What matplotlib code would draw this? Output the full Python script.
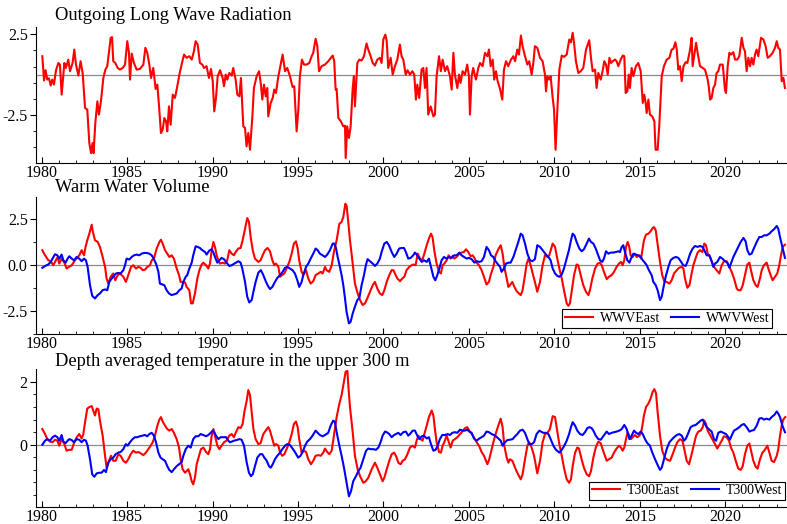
import numpy as np
import matplotlib
matplotlib.use("Agg")
import matplotlib.pyplot as plt
from matplotlib.ticker import FixedLocator

plt.rcParams['font.family'] = ['Liberation Serif', 'DejaVu Serif']
plt.rcParams['axes.unicode_minus'] = False

# all time axes are "years after 1980"

# Outgoing long wave radiation
olr_t = [0.04, 0.14, 0.23, 0.33, 0.43, 0.53, 0.62, 0.72, 0.84, 0.98,
         1.07, 1.17, 1.33, 1.42, 1.56, 1.66, 1.81, 1.91, 2.01, 2.15,
         2.28, 2.40, 2.54, 2.67, 2.79, 2.89, 2.98, 3.04, 3.14, 3.26,
         3.35, 3.47, 3.61, 3.73, 3.84, 3.92, 4.04, 4.12, 4.19, 4.31,
         4.45, 4.58, 4.74, 4.88, 5.01, 5.11, 5.17, 5.27, 5.40, 5.56,
         5.75, 5.95, 6.07, 6.18, 6.30, 6.40, 6.53, 6.67, 6.77, 6.87,
         6.98, 7.08, 7.18, 7.28, 7.35, 7.45, 7.55, 7.67, 7.80, 7.90,
         8.06, 8.19, 8.33, 8.48, 8.64, 8.78, 8.91, 9.01, 9.13, 9.26,
         9.40, 9.50, 9.65, 9.79, 9.91, 10.01, 10.10, 10.20, 10.30, 10.44,
         10.59, 10.67, 10.77, 10.86, 10.98, 11.12, 11.21, 11.35, 11.45, 11.57,
         11.66, 11.80, 11.90, 11.99, 12.09, 12.19, 12.33, 12.42, 12.58, 12.72,
         12.83, 12.91, 13.01, 13.11, 13.20, 13.26, 13.40, 13.52, 13.61, 13.71,
         13.85,
         14.10, 14.24, 14.37, 14.53, 14.68, 14.78, 14.92, 15.02, 15.11, 15.23,
         15.35, 15.50, 15.66, 15.80, 15.89, 16.03, 16.13, 16.23, 16.38, 16.58,
         16.77, 17.03, 17.12, 17.20, 17.26, 17.36, 17.51, 17.65, 17.75, 17.79,
         17.88, 17.98, 18.08, 18.20, 18.27, 18.33, 18.47, 18.59, 18.72, 18.86,
         19.01, 19.11, 19.25, 19.37, 19.50, 19.64, 19.79, 19.89, 19.99, 20.11,
         20.19, 20.28, 20.42, 20.54, 20.67, 20.81, 20.96, 21.06, 21.16, 21.30,
         21.41, 21.55, 21.69, 21.80, 21.90, 21.98, 22.09, 22.23, 22.33, 22.43,
         22.52, 22.62, 22.76, 22.92, 23.01, 23.11, 23.25, 23.36, 23.46, 23.60,
         23.73, 23.89, 23.99, 24.09, 24.18, 24.32, 24.42, 24.51, 24.63, 24.77,
         24.90, 25.00, 25.06, 25.16, 25.25, 25.41, 25.55, 25.65, 25.80, 25.94,
         26.08, 26.17, 26.27, 26.39, 26.48, 26.58, 26.68, 26.82, 26.95, 27.05,
         27.17, 27.30, 27.46, 27.60, 27.70, 27.83, 27.93, 28.04, 28.14, 28.28,
         28.42, 28.53, 28.67, 28.77,
         28.86, 29.00, 29.16, 29.31, 29.45, 29.51, 29.59, 29.69, 29.78, 29.90,
         29.98, 30.07, 30.17, 30.29, 30.43, 30.56, 30.72, 30.87, 30.97, 31.07,
         31.15, 31.26, 31.40, 31.54, 31.69, 31.85, 32.04, 32.14, 32.24, 32.38,
         32.47, 32.57, 32.71, 32.82, 32.92, 33.02, 33.12, 33.22, 33.31, 33.41,
         33.55, 33.64, 33.74, 33.88, 34.00, 34.09, 34.17, 34.27, 34.35, 34.42,
         34.52, 34.62, 34.77, 34.91, 35.05, 35.17, 35.26, 35.34, 35.40, 35.50,
         35.59, 35.73, 35.85, 35.92, 36.04, 36.14, 36.28, 36.41, 36.57, 36.73,
         36.86, 36.96, 37.08, 37.16, 37.25, 37.35, 37.45, 37.55, 37.68, 37.78,
         37.94, 38.03, 38.09, 38.19, 38.29, 38.38, 38.52, 38.68, 38.81, 38.95,
         39.03, 39.11, 39.20, 39.30, 39.40, 39.49, 39.59, 39.69, 39.85, 39.98,
         40.04, 40.14, 40.24, 40.33, 40.47, 40.57, 40.70, 40.82, 40.96, 41.06,
         41.15, 41.25, 41.35, 41.45, 41.54, 41.64, 41.74, 41.83, 41.93, 42.09,
         42.23, 42.36, 42.48, 42.61, 42.77, 42.91, 43.01, 43.10, 43.20, 43.30,
         43.40, 43.49]
olr_v = [1.14, -0.37, 0.27, -0.31, -0.23, -0.68, -0.31, -0.62, 0.27, 0.72,
         0.62, -1.24, 0.72, 0.41, 0.93, 0.21, 0.72, 1.55, 0.62, -0.06,
         0.83, 0.10, -2.07, -2.17, -4.24, -4.87, -4.24, -4.87, -3.00, -1.66,
         -2.48, -1.66, -0.21, 0.31, 0.52, 1.24, 2.28, 2.32, 0.83, 0.72,
         0.41, 0.31, 0.41, 0.62, 2.07, 1.35, -0.31, 1.30, 0.72, 0.31,
         0.35, 0.62, 1.66, 1.35, 0.62, -0.21, 0.41, -0.89, -0.62, -1.97,
         -3.62, -3.42, -2.69, -2.90, -3.52, -1.97, -3.11, -1.24, -1.45, -0.93,
         0.00, 0.62, 1.24, 1.04, 1.14, 0.93, 1.45, 2.07, 1.86, 0.72,
         0.62, 0.41, 0.52, -0.21, 0.35, -0.41, -2.28, -1.45, -0.10, 0.27,
         -0.21, -0.72, 0.00, -0.31, 0.10, -0.06, 0.41, -0.31, -1.24, -1.35,
         -0.21, -3.21, -3.31, -4.45, -3.62, -4.66, -2.59, -0.83, -0.10, 0.21,
         -0.62, -1.55, -0.62, -1.35, -0.83, -2.59, -1.76, -1.45, -0.93, -1.14,
         -0.10,
         1.24, 0.21, 0.41, -0.10, -0.77, -0.72, -3.52, -2.17, -0.10, 0.93,
         0.62, 0.62, 0.72, 1.14, 1.35, 2.22, 1.76, 0.21, 0.52, 0.62,
         0.83, 1.18, 0.83, -0.93, -0.89, -2.69, -2.90, -3.21, -3.17, -5.17,
         -3.21, -3.93, -3.21, -0.83, -0.10, -1.97, 0.72, 0.93, 0.87, 1.14,
         1.93, 1.55, 1.14, 0.72, 0.56, 0.93, 1.04, 0.72, 2.17, 2.48,
         2.07, 0.41, 1.04, 0.00, 0.52, 0.93, 1.86, 1.14, 0.93, 0.00,
         0.27, 0.00, 0.21, 0.00, -1.55, -0.62, -1.45, 0.31, 0.41, -0.83,
         0.41, -2.48, -1.97, -2.59, -2.48, -0.10, 1.14, 0.21, 0.93, 0.21,
         0.52, -0.10, -0.93, 1.35, 0.00, -0.83, 0.00, -0.52, 0.21, 0.00,
         0.62, -0.10, -2.48, -0.10, 0.41, -0.31, 0.41, 0.72, 0.52, 1.35,
         1.14, 1.55, 0.52, 0.93, -0.31, 0.21, -0.41, -0.89, -1.55, 0.31,
         0.83, 0.52, 0.93, 1.14, 0.83, 1.55, 1.24, 2.42, 1.76, 1.14,
         0.62, 0.83, 0.00, 0.72,
         1.76, 1.66, 1.04, 0.83, 0.00, -1.04, -0.10, -0.31, -0.10, -1.45,
         -2.17, -4.66, -2.28, 0.31, 1.18, 1.10, 1.24, 2.17, 2.00, 2.59,
         1.97, 0.83, 0.10, 0.21, 0.41, 1.55, 2.13, 1.04, 0.21, 0.31,
         -0.83, 0.10, -0.31, 0.21, 0.83, 0.62, 0.00, 1.04, 0.72, 0.83,
         0.93, 0.83, 0.52, 0.93, 1.18, 1.14, -1.14, -1.04, 0.00, -0.83,
         0.41, -0.10, 0.52, 0.72, 0.21, -1.76, -1.24, -1.76, -2.38, -1.55,
         -2.48, -2.59, -2.90, -4.66, -4.66, -3.11, -0.10, 0.52, 0.93, 1.04,
         1.55, 1.59, 2.00, 1.55, 0.31, 0.52, -0.41, 0.52, 0.77, 0.72,
         1.55, 2.28, 0.52, 1.24, 1.97, 1.35, 0.52, 0.41, 0.31, -0.21,
         -0.72, -1.55, -1.45, -0.83, -0.62, 0.10, 0.21, 0.62, 0.62, -0.93,
         -1.14, 0.52, 1.35, 1.24, 1.39, 0.93, 0.93, 1.14, 2.28, 1.66,
         1.45, 0.21, 1.04, 0.52, 1.04, 0.62, 1.24, 1.55, 1.14, 2.28,
         2.17, 1.76, 1.04, 1.14, 1.35, 1.66, 2.07, 1.66, 1.55, -0.41,
         -0.21, -0.83]

# Warm water volume, east
wwv_east_t = [0.04, 0.20, 0.39, 0.53, 0.68, 0.84, 0.94, 1.03, 1.17, 1.33,
              1.46, 1.60, 1.76, 1.95, 2.20, 2.34, 2.48, 2.57, 2.67, 2.79,
              2.93, 2.98, 3.12, 3.28, 3.41, 3.57, 3.71, 3.80, 3.90, 4.04,
              4.19, 4.31, 4.45, 4.58, 4.78, 4.93, 5.07, 5.23, 5.36, 5.52,
              5.66, 5.79, 5.91, 6.05, 6.18, 6.34, 6.44, 6.57, 6.73, 6.89,
              6.98, 7.08, 7.22, 7.35, 7.47, 7.61, 7.74, 7.90, 8.04, 8.13,
              8.25, 8.39, 8.48, 8.64, 8.74, 8.84, 8.97, 9.11, 9.23, 9.36,
              9.46, 9.62, 9.75, 9.85, 9.95, 10.05, 10.14, 10.24, 10.34, 10.43,
              10.59, 10.73, 10.86, 10.98, 11.12, 11.25, 11.35, 11.51, 11.64, 11.76,
              11.90, 12.03, 12.13, 12.23, 12.35, 12.48, 12.68, 12.81, 12.93, 13.07,
              13.22, 13.36, 13.50, 13.61, 13.71, 13.85, 13.95, 14.06, 14.20,
              14.33, 14.49, 14.63, 14.76, 14.88, 14.98, 15.07, 15.21, 15.31, 15.47,
              15.60, 15.74, 15.89, 16.03, 16.19, 16.33, 16.44, 16.58, 16.67, 16.83,
              16.97, 17.10, 17.26, 17.42, 17.55, 17.65, 17.77, 17.84, 17.94, 18.04,
              18.20, 18.33, 18.49, 18.63, 18.78, 18.92, 19.05, 19.21, 19.37, 19.50,
              19.64, 19.79, 19.93, 20.05, 20.19, 20.34, 20.48, 20.58, 20.67, 20.81,
              20.97, 21.10, 21.22, 21.35, 21.51, 21.65, 21.74, 21.88, 22.00, 22.14,
              22.27, 22.39, 22.53, 22.66, 22.78, 22.87, 22.97, 23.11, 23.25, 23.36,
              23.46, 23.56, 23.70, 23.81, 23.93, 24.05, 24.14, 24.28, 24.44, 24.57,
              24.71, 24.83, 24.96, 25.10, 25.22, 25.32, 25.45, 25.59, 25.74, 25.88,
              26.03, 26.17, 26.27, 26.43, 26.56, 26.72, 26.86, 26.97, 27.07, 27.17,
              27.31, 27.40, 27.54, 27.66, 27.79, 27.93, 28.03, 28.14, 28.28, 28.38,
              28.49, 28.61, 28.73, 28.86, 29.00,
              29.16, 29.31, 29.45, 29.59, 29.70, 29.90, 30.04, 30.13, 30.29, 30.43,
              30.58, 30.72, 30.82, 30.91, 31.01, 31.15, 31.30, 31.40, 31.54, 31.69,
              31.85, 31.99, 32.08, 32.22, 32.38, 32.53, 32.67, 32.77, 32.90, 33.06,
              33.19, 33.35, 33.49, 33.64, 33.78, 33.90, 33.99, 34.09, 34.19, 34.29,
              34.38, 34.46, 34.58, 34.71, 34.81, 34.97, 35.07, 35.15, 35.24, 35.36,
              35.50, 35.63, 35.75, 35.83, 35.93, 36.02, 36.18, 36.31, 36.43, 36.57,
              36.73, 36.86, 37.00, 37.16, 37.29, 37.45, 37.55, 37.64, 37.78, 37.90,
              38.03, 38.13, 38.27, 38.38, 38.52, 38.66, 38.77, 38.87, 38.97, 39.11,
              39.20, 39.34, 39.49, 39.65, 39.79, 39.92, 40.08, 40.24, 40.37, 40.51,
              40.67, 40.76, 40.90, 41.02, 41.15, 41.29, 41.41, 41.48, 41.64, 41.78,
              41.89, 42.03, 42.13, 42.26, 42.42, 42.52, 42.65, 42.77, 42.91, 43.04,
              43.16, 43.24, 43.36, 43.49]
wwv_east_v = [0.82, 0.54, 0.27, 0.22, 0.00, 0.27, 0.45, 0.09, 0.36, 0.14,
              -0.18, -0.09, 0.00, 0.27, 0.54, 0.82, 0.54, 1.00, 1.36, 1.72,
              2.21, 1.90, 1.36, 1.27, 1.00, 0.45, -0.09, -0.72, -1.00, -0.63,
              -0.45, -0.82, -0.54, -0.45, -0.63, -0.91, -0.54, -0.09, 0.00, -0.18,
              -0.09, -0.14, -0.27, -0.24, -0.09, 0.00, 0.27, 0.36, 0.91, 1.27,
              1.39, 1.18, 0.82, 0.63, 0.45, 0.54, 0.36, -0.18, -0.54, -0.91,
              -0.91, -0.94, -1.18, -1.36, -2.08, -2.08, -1.54, -0.72, -0.27, 0.04,
              0.14, 0.00, -0.18, 0.09, 0.82, 1.27, 1.00, 0.54, 0.27, 0.09,
              0.14, 0.09, 0.27, 0.82, 0.63, 0.54, 0.72, 0.91, 0.94, 1.36,
              1.99, 2.57, 2.36, 1.54, 0.82, 0.36, 0.18, 0.27, 0.54, 0.82,
              0.94, 0.76, 0.27, 0.00, 0.09, -0.09, -0.63, -0.54, -0.45,
              -0.18, 0.18, 0.63, 1.18, 1.30, 0.91, 0.27, -0.36, -0.51, -0.27,
              -0.72, -1.00, -0.87, -0.54, -0.45, -0.36, -0.45, -0.09, -0.27, -0.36,
              0.00, 0.72, 1.36, 2.26, 2.36, 2.63, 3.35, 3.26, 2.36, 1.36,
              0.09, -1.00, -1.54, -1.90, -2.17, -2.08, -1.81, -1.45, -1.09, -0.91,
              -1.27, -1.54, -1.63, -1.36, -0.91, -0.54, -0.27, -0.27, -0.45, -0.72,
              -0.87, -0.72, -0.63, -0.27, -0.09, 0.00, 0.04, 0.00, 0.63, 0.36,
              0.27, 0.63, 1.09, 1.45, 1.72, 1.54, 0.82, 0.09, -0.36, -0.45,
              0.00, 0.09, 0.27, 0.54, 0.36, 0.51, 0.36, 0.45, 0.63, 0.69,
              0.72, 0.87, 0.72, 0.49, 0.54, 0.40, 0.14, 0.00, -0.27, -0.63,
              -1.05, -0.91, -0.54, -0.09, 0.54, 0.87, 1.09, 0.63, -0.09, -0.54,
              -1.18, -1.09, -0.91, -1.18, -1.41, -1.54, -1.63, -1.36, -0.54, 0.09,
              0.36, 0.00, -0.45, -0.91, -1.45,
              -0.91, 0.00, 0.54, 0.45, 0.54, 1.18, 1.00, 0.54, -0.18, -0.72,
              -1.45, -2.08, -2.21, -2.08, -1.45, -0.54, 0.04, 0.00, -0.54, -1.09,
              -1.45, -1.63, -1.36, -0.72, -0.18, 0.09, 0.13, 0.00, -0.36, -0.76,
              -0.63, -0.54, -0.36, -0.09, 0.09, 0.18, 0.00, 0.27, 1.00, 1.27,
              1.00, 0.54, 0.45, 0.63, 0.45, 0.54, 0.36, 0.82, 1.36, 1.67,
              1.72, 1.85, 2.03, 2.08, 1.90, 1.27, 0.18, -0.54, -0.87, -0.91,
              -1.00, -0.82, -0.45, -0.27, -0.14, -0.09, -0.18, -0.72, -1.23, -1.09,
              -0.45, 0.00, 0.40, 0.69, 0.82, 0.72, 1.18, 1.09, 0.63, 0.45,
              0.22, -0.09, -0.27, -0.45, 0.00, 0.22, 0.22, -0.09, -0.36, -0.72,
              -1.27, -1.36, -1.36, -1.09, -0.54, 0.04, 0.14, -0.18, -0.82, -1.09,
              -1.18, -0.72, -0.27, 0.00, 0.14, -0.18, -0.54, -0.82, -0.63, -0.45,
              0.00, 0.45, 1.00, 1.12]

# Warm water volume, west
wwv_west_t = [0.04, 0.20, 0.39, 0.53, 0.64, 0.78, 0.92, 1.03, 1.17, 1.27,
              1.40, 1.52, 1.62, 1.76, 1.89, 2.05, 2.20, 2.34, 2.48, 2.59,
              2.69, 2.83, 2.96, 3.12, 3.28, 3.41, 3.57, 3.71, 3.84, 3.96,
              4.10, 4.23, 4.35, 4.49, 4.62, 4.78, 4.88, 4.97, 5.13, 5.27,
              5.40, 5.56, 5.71, 5.85, 5.99, 6.14, 6.30, 6.44, 6.53, 6.69,
              6.83, 6.92, 7.06, 7.18, 7.31, 7.45, 7.61, 7.74, 7.90, 8.06,
              8.19, 8.29, 8.43, 8.52, 8.64, 8.78, 8.87, 9.01, 9.13, 9.26,
              9.40, 9.56, 9.65, 9.81, 9.95, 10.05, 10.18, 10.28, 10.40, 10.53,
              10.67, 10.82, 10.98, 11.12, 11.31, 11.51, 11.64, 11.74, 11.90, 12.03,
              12.15, 12.29, 12.39, 12.52, 12.68, 12.83, 12.97, 13.11, 13.22, 13.36,
              13.50, 13.65, 13.79, 13.95, 14.10, 14.24,
              14.37, 14.53, 14.68, 14.82, 14.96, 15.07, 15.21, 15.31, 15.47, 15.60,
              15.74, 15.89, 16.03, 16.15, 16.28, 16.44, 16.58, 16.71, 16.87, 17.03,
              17.12, 17.22, 17.32, 17.45, 17.55, 17.65, 17.75, 17.84, 17.98, 18.08,
              18.20, 18.33, 18.47, 18.59, 18.72, 18.86, 18.98, 19.07, 19.21, 19.37,
              19.50, 19.64, 19.79, 19.89, 20.05, 20.19, 20.32, 20.48, 20.63, 20.77,
              20.92, 21.06, 21.20, 21.31, 21.45, 21.59, 21.74, 21.84, 21.98, 22.10,
              22.24, 22.37, 22.53, 22.66, 22.78, 22.92, 23.03, 23.15, 23.27, 23.40,
              23.54, 23.69, 23.83, 23.99, 24.13, 24.28, 24.44, 24.57, 24.71, 24.87,
              25.00, 25.16, 25.32, 25.45, 25.61, 25.74, 25.88, 26.03, 26.17, 26.29,
              26.43, 26.52, 26.66, 26.82, 26.91, 27.05, 27.17, 27.31, 27.44, 27.60,
              27.73, 27.89, 28.03, 28.14, 28.28, 28.42, 28.57, 28.71, 28.86, 29.00,
              29.16, 29.31, 29.51, 29.65, 29.78, 29.90, 30.04, 30.17, 30.29, 30.43,
              30.56, 30.72, 30.85, 30.97, 31.07, 31.17, 31.30, 31.46, 31.60, 31.73,
              31.89, 32.02, 32.14, 32.28, 32.42, 32.53, 32.67, 32.80, 32.90, 33.02,
              33.16, 33.29, 33.45, 33.60, 33.74, 33.84, 33.94, 34.03, 34.13, 34.27,
              34.39, 34.48, 34.62, 34.77, 34.91, 35.05, 35.17, 35.26, 35.40, 35.53,
              35.69, 35.79, 35.93, 36.04, 36.18, 36.28, 36.37, 36.51, 36.67, 36.80,
              36.96, 37.11, 37.25, 37.39, 37.54, 37.68, 37.80, 37.94, 38.09, 38.23,
              38.38, 38.52, 38.66, 38.77, 38.91, 39.07, 39.20, 39.30, 39.40, 39.53,
              39.69, 39.83, 39.98, 40.12, 40.24, 40.33, 40.47, 40.63, 40.76, 40.90,
              41.06, 41.19, 41.29, 41.41, 41.54, 41.68, 41.84, 41.99, 42.13, 42.26,
              42.42, 42.58, 42.71, 42.85, 43.01, 43.10, 43.20, 43.34, 43.49]
wwv_west_v = [-0.14, -0.04, 0.04, 0.18, 0.36, 0.60, 0.54, 0.36, 0.58, 0.27,
              0.14, 0.36, 0.49, 0.36, 0.27, 0.45, 0.36, 0.22, 0.36, 0.27,
              -0.09, -1.09, -1.67, -1.81, -1.63, -1.54, -1.36, -1.32, -1.36, -0.91,
              -0.72, -0.58, -0.45, -0.42, -0.45, -0.27, 0.00, 0.36, 0.31, 0.45,
              0.54, 0.58, 0.54, 0.63, 0.67, 0.67, 0.63, 0.54, 0.40, 0.09,
              -0.36, -1.00, -1.05, -1.09, -1.36, -1.54, -1.63, -1.59, -1.54, -1.36,
              -1.27, -0.91, -0.63, -0.54, -0.18, 0.14, 0.54, 1.03, 1.00, 0.94,
              0.82, 0.72, 0.58, 0.80, 0.87, 0.69, 0.36, 0.14, 0.27, 0.40,
              0.33, 0.14, -0.04, 0.00, 0.11, 0.22, 0.14, -0.18, -0.91, -1.72,
              -2.03, -1.90, -1.45, -0.91, -0.40, -0.27, -0.54, -0.87, -1.09, -1.30,
              -1.18, -0.91, -0.69, -0.54, -0.36, -0.14,
              -0.09, -0.18, -0.27, -0.45, -0.82, -1.18, -0.91, -0.54, -0.09, 0.09,
              0.36, 0.63, 0.91, 0.82, 0.63, 0.54, 0.45, 0.58, 0.82, 1.18,
              1.18, 0.94, 0.45, -0.09, -0.54, -1.09, -1.81, -2.54, -3.17, -3.08,
              -2.63, -2.26, -1.90, -1.78, -1.09, -0.54, 0.04, 0.33, 0.22, 0.09,
              -0.04, 0.09, 0.36, 0.72, 1.18, 1.27, 1.09, 0.72, 0.45, 0.63,
              0.91, 0.94, 0.94, 0.72, 0.36, 0.40, 0.54, 0.69, 0.54, 0.36,
              0.18, 0.27, 0.18, 0.36, -0.09, -0.63, -0.82, -0.54, -0.18, 0.27,
              0.45, 0.36, 0.45, 0.40, 0.54, 0.54, 0.69, 0.54, 0.45, 0.36,
              0.40, 0.33, 0.14, 0.22, 0.18, 0.22, 0.45, 1.00, 0.82, 0.54,
              0.45, 0.27, 0.09, -0.09, -0.36, -0.18, 0.09, 0.14, 0.14, 0.45,
              0.82, 1.27, 1.72, 1.63, 1.18, 0.63, 0.27, 0.22, 0.33, 1.09,
              1.00, 0.82, 0.58, 0.45, 0.27, -0.18, -0.45, -0.58, -0.63, -0.51,
              -0.18, 0.36, 0.82, 1.36, 1.72, 1.63, 1.27, 0.91, 0.76, 0.87,
              1.18, 1.45, 1.27, 1.18, 0.91, 0.63, 0.27, 0.18, 0.36, 0.76,
              0.63, 0.69, 0.69, 0.72, 0.76, 0.72, 1.00, 1.09, 0.72, 0.27,
              0.14, 0.36, 0.63, 0.58, 0.54, 0.45, 0.27, 0.18, 0.00, -0.27,
              -0.54, -0.91, -1.09, -1.36, -1.90, -1.72, -1.27, -0.63, -0.09, 0.27,
              0.40, 0.45, 0.40, 0.22, 0.00, -0.04, 0.22, 0.63, 0.91, 1.05,
              1.00, 1.05, 1.00, 0.82, 0.54, 0.54, 0.22, -0.09, 0.09, 0.18,
              0.45, 0.36, 0.22, 0.14, -0.13, 0.09, 0.45, 0.76, 1.00, 1.27,
              1.49, 1.30, 0.82, 0.58, 0.63, 0.94, 1.27, 1.54, 1.54, 1.63,
              1.63, 1.72, 1.85, 1.96, 2.14, 1.99, 1.54, 1.00, 0.40]

# Depth averaged temperature (upper 300 m), east
t300_east_t = [0.04, 0.20, 0.33, 0.49, 0.64, 0.78, 0.92, 1.03, 1.17, 1.33,
               1.46, 1.60, 1.76, 1.91, 2.05, 2.20, 2.34, 2.44, 2.54, 2.67,
               2.79, 2.93, 3.02, 3.12, 3.22, 3.32, 3.41, 3.57, 3.71, 3.80,
               3.94, 4.06, 4.19, 4.33, 4.49, 4.62, 4.78, 4.93, 5.07, 5.21,
               5.36, 5.52, 5.66, 5.79, 5.95, 6.10, 6.24, 6.38, 6.50, 6.63,
               6.77, 6.89, 6.98, 7.08, 7.22, 7.35, 7.47, 7.61, 7.74, 7.90,
               8.04, 8.13, 8.25, 8.39, 8.48, 8.58, 8.68, 8.78, 8.87, 8.97,
               9.07, 9.21, 9.32, 9.46, 9.62, 9.75, 9.85, 9.95, 10.05, 10.14,
               10.28, 10.40, 10.53, 10.67, 10.82, 10.98, 11.12, 11.25, 11.37, 11.51,
               11.64, 11.76, 11.86, 12.00, 12.09, 12.19, 12.29, 12.39, 12.52, 12.68,
               12.81, 12.97, 13.11, 13.26, 13.36, 13.50, 13.61, 13.71, 13.85, 13.95,
               14.08, 14.20,
               14.33, 14.49, 14.63, 14.76, 14.88, 14.98, 15.07, 15.21, 15.35, 15.47,
               15.60, 15.76, 15.89, 16.03, 16.19, 16.33, 16.48, 16.58, 16.71, 16.83,
               16.97, 17.10, 17.26, 17.42, 17.55, 17.65, 17.79, 17.89, 17.94, 18.04,
               18.20, 18.33, 18.49, 18.63, 18.82, 18.96, 19.11, 19.31, 19.50, 19.64,
               19.79, 19.95, 20.05, 20.19, 20.34, 20.48, 20.62, 20.73, 20.87, 21.00,
               21.12, 21.26, 21.40, 21.55, 21.69, 21.84, 21.94, 22.04, 22.17, 22.29,
               22.39, 22.53, 22.66, 22.82, 22.92, 23.01, 23.11, 23.25, 23.36, 23.46,
               23.56, 23.70, 23.83, 23.93, 24.05, 24.18, 24.32, 24.48, 24.61, 24.77,
               24.90, 25.02, 25.16, 25.29, 25.45, 25.59, 25.74, 25.88, 26.08, 26.19,
               26.33, 26.43, 26.56, 26.72, 26.86, 26.97, 27.07, 27.21, 27.31, 27.40,
               27.54, 27.70, 27.83, 28.03, 28.14, 28.28, 28.42, 28.53, 28.67, 28.81,
               29.00, 29.16, 29.31, 29.45, 29.59, 29.74, 29.90, 30.04, 30.13, 30.29,
               30.43, 30.58, 30.72, 30.86, 30.97, 31.07, 31.21, 31.34, 31.44, 31.59,
               31.73, 31.89, 32.03, 32.14, 32.28, 32.42, 32.57, 32.71, 32.82, 32.96,
               33.06, 33.19, 33.35, 33.49, 33.64, 33.78, 33.90, 33.99, 34.09, 34.19,
               34.29, 34.38, 34.48, 34.58, 34.71, 34.85, 34.97, 35.07, 35.15, 35.24,
               35.36, 35.50, 35.63, 35.75, 35.85, 35.95, 36.04, 36.18, 36.31, 36.47,
               36.61, 36.77, 36.92, 37.06, 37.19, 37.35, 37.49, 37.60, 37.74, 37.88,
               38.03, 38.17, 38.29, 38.42, 38.56, 38.68, 38.77, 38.87, 38.97, 39.11,
               39.24, 39.40, 39.53, 39.65, 39.79, 39.92, 40.08, 40.22, 40.33, 40.47,
               40.61, 40.76, 40.90, 41.02, 41.15, 41.29, 41.41, 41.48, 41.64, 41.78,
               41.89, 42.03, 42.17, 42.28, 42.46, 42.58, 42.71, 42.85, 43.01, 43.10,
               43.20, 43.30, 43.39, 43.51]
t300_east_v = [0.50, 0.34, 0.18, 0.10, 0.08, 0.16, 0.13, -0.03, 0.18, 0.02,
               -0.19, -0.16, -0.16, 0.08, 0.24, 0.34, 0.20, 0.34, 0.72, 1.15,
               1.20, 1.23, 1.09, 0.93, 1.15, 1.13, 0.77, 0.29, -0.35, -0.73,
               -0.51, -0.35, -0.51, -0.51, -0.30, -0.35, -0.51, -0.57, -0.46, -0.30,
               -0.19, -0.25, -0.23, -0.27, -0.33, -0.25, -0.14, -0.03, 0.08, 0.29,
               0.61, 0.80, 0.88, 0.74, 0.61, 0.50, 0.45, 0.50, 0.38, 0.18,
               -0.09, -0.46, -0.78, -0.89, -0.84, -0.78, -0.94, -1.16, -1.26, -1.05,
               -0.62, -0.35, -0.14, -0.09, -0.23, -0.30, -0.14, 0.29, 0.50, 0.29,
               -0.03, -0.14, -0.03, 0.08, 0.13, 0.29, 0.34, 0.24, 0.40, 0.56,
               0.53, 0.66, 1.04, 1.41, 1.74, 1.58, 1.04, 0.50, 0.18, 0.02,
               0.05, 0.34, 0.45, 0.56, 0.45, 0.18, -0.03, 0.02, -0.03, -0.25,
               -0.35, -0.30,
               -0.14, 0.08, 0.34, 0.66, 0.74, 0.56, 0.18, -0.25, -0.19, -0.23,
               -0.46, -0.62, -0.51, -0.35, -0.33, -0.35, -0.25, -0.12, -0.23, -0.30,
               -0.19, 0.29, 0.88, 1.31, 1.58, 1.90, 2.33, 2.35, 1.90, 1.20,
               0.40, -0.35, -0.78, -1.00, -1.21, -1.16, -1.05, -0.78, -0.57, -0.73,
               -0.94, -1.16, -1.05, -0.78, -0.51, -0.30, -0.25, -0.35, -0.57, -0.62,
               -0.51, -0.46, -0.30, -0.09, -0.03, -0.09, 0.13, 0.29, 0.18, 0.13,
               0.34, 0.61, 0.88, 1.09, 0.93, 0.50, 0.08, -0.23, -0.25, -0.03,
               0.08, 0.29, 0.08, -0.09, 0.13, 0.18, 0.24, 0.34, 0.42, 0.53,
               0.56, 0.45, 0.34, 0.24, 0.08, -0.03, -0.23, -0.35, -0.62, -0.46,
               -0.14, 0.08, 0.34, 0.61, 0.83, 0.56, -0.03, -0.41, -0.57, -0.46,
               -0.51, -0.73, -0.89, -1.10, -0.94, -0.46, -0.03, 0.08, -0.09, -0.35,
               -0.91, -0.51, 0.08, 0.34, 0.38, 0.50, 0.91, 0.88, 0.56, 0.02,
               -0.35, -0.78, -1.10, -1.21, -1.10, -0.68, -0.25, -0.09, -0.12, -0.46,
               -0.73, -0.94, -1.00, -0.84, -0.41, -0.09, 0.10, 0.05, -0.14, -0.35,
               -0.51, -0.46, -0.41, -0.25, -0.12, -0.03, -0.09, -0.19, -0.09, 0.18,
               0.40, 0.29, 0.18, 0.24, 0.31, 0.24, 0.29, 0.38, 0.61, 0.93,
               1.20, 1.31, 1.47, 1.68, 1.77, 1.63, 1.04, 0.29, -0.19, -0.41,
               -0.48, -0.51, -0.30, -0.09, 0.08, 0.18, 0.13, -0.14, -0.51, -0.62,
               -0.30, 0.02, 0.29, 0.42, 0.45, 0.56, 0.77, 0.66, 0.45, 0.31,
               0.18, 0.02, -0.12, -0.01, 0.13, 0.27, 0.24, 0.13, -0.09, -0.25,
               -0.51, -0.76, -0.80, -0.68, -0.30, -0.03, 0.04, -0.12, -0.51, -0.70,
               -0.76, -0.46, -0.25, -0.19, -0.03, -0.25, -0.51, -0.55, -0.35, -0.14,
               0.29, 0.61, 0.80, 0.88]

# Depth averaged temperature (upper 300 m), west
t300_west_t = [0.04, 0.20, 0.33, 0.49, 0.64, 0.78, 0.92, 1.03, 1.17, 1.27,
               1.40, 1.52, 1.62, 1.76, 1.89, 2.05, 2.20, 2.34, 2.48, 2.59,
               2.69, 2.83, 2.96, 3.08, 3.22, 3.37, 3.51, 3.65, 3.76, 3.90,
               4.04, 4.19, 4.33, 4.49, 4.62, 4.78, 4.92, 5.03, 5.17, 5.32,
               5.46, 5.60, 5.75, 5.91, 6.05, 6.18, 6.30, 6.44, 6.57, 6.69,
               6.83, 6.96, 7.08, 7.22, 7.35, 7.47, 7.61, 7.74, 7.90, 8.04,
               8.19, 8.29, 8.43, 8.58, 8.72, 8.87, 9.01, 9.17, 9.30, 9.46,
               9.62, 9.75, 9.89, 10.01, 10.10, 10.20, 10.34, 10.47, 10.63, 10.79,
               10.92, 11.02, 11.12, 11.25, 11.41, 11.57, 11.70, 11.84, 12.00, 12.13,
               12.25, 12.35, 12.48, 12.62, 12.78, 12.91, 13.03, 13.17, 13.30, 13.40,
               13.52, 13.65, 13.79, 13.95, 14.08, 14.24,
               14.37, 14.53, 14.68, 14.82, 15.01, 15.15, 15.27, 15.41, 15.54, 15.70,
               15.85, 16.03, 16.15, 16.28, 16.44, 16.58, 16.77, 16.91, 17.06, 17.16,
               17.26, 17.42, 17.55, 17.69, 17.84, 17.98, 18.10, 18.23, 18.39, 18.53,
               18.66, 18.82, 18.98, 19.11, 19.25, 19.40, 19.56, 19.70, 19.83, 19.95,
               20.09, 20.19, 20.34, 20.48, 20.62, 20.73, 20.87, 21.00, 21.16, 21.31,
               21.45, 21.55, 21.71, 21.84, 21.98, 22.10, 22.24, 22.37, 22.53, 22.66,
               22.78, 22.92, 23.05, 23.17, 23.30, 23.44, 23.60, 23.75, 23.89, 24.03,
               24.18, 24.32, 24.48, 24.61, 24.77, 24.90, 25.02, 25.16, 25.29, 25.45,
               25.61, 25.74, 25.88, 26.03, 26.17, 26.33, 26.46, 26.58, 26.72, 26.86,
               26.97, 27.11, 27.25, 27.40, 27.56, 27.70, 27.83, 27.99, 28.14, 28.28,
               28.42, 28.53, 28.67, 28.81, 28.96, 29.12,
               29.35, 29.51, 29.65, 29.78, 29.94, 30.09, 30.29, 30.43, 30.58, 30.72,
               30.86, 30.97, 31.07, 31.21, 31.34, 31.50, 31.65, 31.79, 31.93, 32.04,
               32.18, 32.28, 32.42, 32.57, 32.71, 32.82, 32.96, 33.06, 33.19, 33.35,
               33.49, 33.64, 33.80, 33.94, 34.09, 34.23, 34.39, 34.52, 34.66, 34.78,
               34.91, 35.05, 35.17, 35.30, 35.44, 35.59, 35.73, 35.89, 36.02, 36.18,
               36.28, 36.41, 36.57, 36.73, 36.86, 37.00, 37.16, 37.31, 37.45, 37.59,
               37.70, 37.84, 37.97, 38.13, 38.27, 38.42, 38.56, 38.68, 38.77, 38.91,
               39.07, 39.20, 39.34, 39.46, 39.59, 39.73, 39.89, 40.04, 40.18, 40.27,
               40.37, 40.51, 40.67, 40.82, 40.96, 41.09, 41.25, 41.41, 41.54, 41.68,
               41.84, 41.99, 42.13, 42.26, 42.42, 42.58, 42.71, 42.87, 43.01, 43.10,
               43.20, 43.34, 43.49]
t300_west_v = [0.00, 0.13, 0.18, 0.13, 0.24, 0.29, 0.24, 0.13, 0.31, 0.10,
               0.05, 0.13, 0.18, 0.15, 0.08, 0.18, 0.16, 0.08, 0.16, 0.13,
               -0.03, -0.46, -0.94, -1.02, -0.91, -0.89, -0.89, -0.80, -0.87, -0.57,
               -0.46, -0.41, -0.30, -0.25, -0.23, -0.14, 0.02, -0.03, 0.08, 0.18,
               0.24, 0.24, 0.27, 0.29, 0.31, 0.27, 0.34, 0.38, 0.29, 0.08,
               -0.25, -0.41, -0.46, -0.51, -0.68, -0.80, -0.87, -0.78, -0.68, -0.62,
               -0.55, -0.35, -0.14, -0.03, -0.09, 0.18, 0.27, 0.27, 0.34, 0.31,
               0.27, 0.31, 0.38, 0.45, 0.40, 0.29, 0.18, 0.24, 0.24, 0.24,
               0.13, 0.08, 0.10, 0.13, 0.15, 0.18, 0.16, -0.03, -0.57, -0.89,
               -1.00, -0.94, -0.68, -0.41, -0.30, -0.30, -0.41, -0.51, -0.68, -0.73,
               -0.62, -0.46, -0.35, -0.25, -0.14, -0.03,
               0.02, -0.01, -0.12, -0.23, -0.41, -0.35, -0.23, -0.03, 0.10, 0.18,
               0.29, 0.45, 0.38, 0.31, 0.27, 0.31, 0.38, 0.61, 0.77, 0.72,
               0.40, -0.03, -0.35, -0.73, -1.21, -1.64, -1.48, -1.16, -1.00, -0.84,
               -0.73, -0.46, -0.19, -0.12, -0.14, -0.14, -0.16, -0.09, 0.08, 0.29,
               0.42, 0.40, 0.34, 0.24, 0.31, 0.34, 0.38, 0.31, 0.40, 0.42,
               0.29, 0.34, 0.45, 0.45, 0.29, 0.18, 0.27, 0.29, 0.20, 0.24,
               0.02, -0.19, -0.16, -0.03, 0.18, 0.31, 0.31, 0.34, 0.31, 0.38,
               0.40, 0.38, 0.48, 0.45, 0.45, 0.48, 0.42, 0.38, 0.20, 0.13,
               0.20, 0.24, 0.29, 0.42, 0.40, 0.34, 0.31, 0.27, 0.20, 0.13,
               -0.03, 0.08, 0.15, 0.16, 0.18, 0.27, 0.34, 0.45, 0.48, 0.38,
               0.18, 0.02, 0.02, 0.08, 0.34, 0.45,
               0.38, 0.38, 0.34, 0.18, -0.03, -0.16, -0.25, -0.16, -0.03, 0.13,
               0.34, 0.56, 0.72, 0.61, 0.45, 0.34, 0.31, 0.40, 0.53, 0.56,
               0.53, 0.45, 0.29, 0.18, 0.16, 0.24, 0.34, 0.42, 0.34, 0.38,
               0.40, 0.42, 0.45, 0.50, 0.63, 0.50, 0.18, 0.29, 0.45, 0.38,
               0.34, 0.42, 0.34, 0.18, 0.05, -0.03, -0.25, -0.46, -0.62, -0.80,
               -0.73, -0.46, -0.14, 0.08, 0.16, 0.24, 0.31, 0.34, 0.29, 0.13,
               0.20, 0.38, 0.56, 0.61, 0.63, 0.70, 0.77, 0.80, 0.70, 0.56,
               0.48, 0.42, 0.18, 0.13, 0.38, 0.42, 0.38, 0.34, 0.24, 0.16,
               0.29, 0.45, 0.50, 0.56, 0.63, 0.66, 0.56, 0.42, 0.45, 0.47,
               0.61, 0.83, 0.85, 0.80, 0.83, 0.80, 0.88, 0.95, 1.06, 0.99,
               0.88, 0.61, 0.40]

RED = '#ff0000'
BLUE = '#0000ff'
W, H = 787.0, 524.0


def make_axes(fig, top, bottom):
    # positions in pixels of the reference picture
    return fig.add_axes([36 / W, 1 - bottom / H, (W - 36) / W, (bottom - top) / H])


def style(ax, ylim, yticks, ylabels, yminor):
    ax.set_xlim(1979.67, 2023.61)
    ax.set_ylim(*ylim)
    ax.spines['top'].set_visible(False)
    ax.spines['right'].set_visible(False)
    ax.spines['left'].set_linewidth(0.8)
    ax.spines['bottom'].set_linewidth(0.8)
    ax.set_xticks(range(1980, 2021, 5))
    ax.set_xticklabels([str(y) for y in range(1980, 2021, 5)])
    ax.xaxis.set_minor_locator(FixedLocator(range(1980, 2024)))
    ax.set_yticks(yticks)
    ax.set_yticklabels(ylabels)
    ax.yaxis.set_minor_locator(FixedLocator(yminor))
    ax.tick_params(axis='x', which='major', direction='in', length=4.5, width=0.8,
                   labelsize=11.5, pad=1.5)
    ax.tick_params(axis='x', which='minor', direction='in', length=2.5, width=0.6)
    ax.tick_params(axis='y', which='major', direction='out', length=4.5, width=0.8,
                   labelsize=11.5, pad=1.5)
    ax.tick_params(axis='y', which='minor', direction='out', length=2.5, width=0.6)
    ax.axhline(0, color='#8a8a8a', lw=0.9, zorder=1)


def years(t):
    return 1980 + np.asarray(t)


fig = plt.figure(figsize=(7.87, 5.24), dpi=100)

ax1 = make_axes(fig, 27, 163)
ax1.plot(years(olr_t), olr_v, color=RED, lw=1.5, zorder=3)
style(ax1, (-5.48, 2.95), [2.5, -2.5], ['2.5', '-2.5'],
      [1.5, 0.5, -0.5, -1.5, -3.5, -4.5])

ax2 = make_axes(fig, 197, 334)
ax2.plot(years(wwv_east_t), wwv_east_v, color=RED, lw=1.5, zorder=3, label='WWVEast')
ax2.plot(years(wwv_west_t), wwv_west_v, color=BLUE, lw=1.5, zorder=3, label='WWVWest')
style(ax2, (-3.75, 3.72), [2.5, 0, -2.5], ['2.5', '0.0', '-2.5'],
      [3.75, 1.25, -1.25, -3.75])

ax3 = make_axes(fig, 369, 507)
ax3.plot(years(t300_east_t), t300_east_v, color=RED, lw=1.5, zorder=3, label='T300East')
ax3.plot(years(t300_west_t), t300_west_v, color=BLUE, lw=1.5, zorder=3, label='T300West')
style(ax3, (-1.98, 2.41), [2, 0], ['2', '0'],
      [1.6, 1.2, 0.8, 0.4, -0.4, -0.8, -1.2, -1.6])

for ax, anchor in [(ax2, (0.980, 0.044)), (ax3, (0.997, 0.05))]:
    leg = ax.legend(loc='lower right', bbox_to_anchor=anchor, ncol=2, fontsize=10,
                    frameon=True, fancybox=False, framealpha=1, edgecolor='black',
                    handlelength=2.0, handletextpad=0.5, columnspacing=0.8,
                    borderpad=0.2, borderaxespad=0)
    leg.get_frame().set_linewidth(0.8)

titles = [("Outgoing Long Wave Radiation", 20),
          ("Warm Water Volume", 192),
          ("Depth averaged temperature in the upper 300 m", 366)]
for txt, base in titles:
    fig.text(55 / W, 1 - base / H, txt, fontsize=13.3, va='baseline', ha='left')

fig.savefig('out.png', dpi=100)
